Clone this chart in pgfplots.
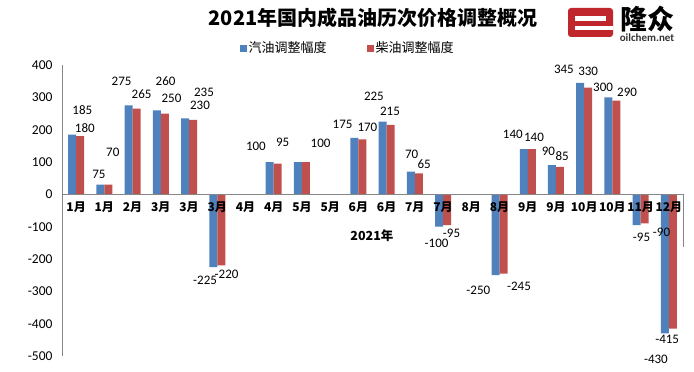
\documentclass[border=0pt]{standalone}
\usepackage{fontspec}
\setmainfont{Carlito}
\newfontfamily\cjk{Noto Sans CJK SC}
\usepackage{pgfplots}
\pgfplotsset{compat=1.18}
\usepackage{pgfplotstable}
\definecolor{gasC}{HTML}{4F81BD}
\definecolor{dieC}{HTML}{C0504D}
\definecolor{axC}{HTML}{868686}
\definecolor{logoR}{HTML}{C0272D}
\tikzset{dl/.style={font=\fontsize{13}{13}\selectfont, inner sep=0pt}}

\pgfplotstableread{
idx gas diesel
0 185 180
1 30 30
2 275 265
3 260 250
4 235 230
5 -225 -220
6 0 0
7 100 95
8 100 100
9 0 0
10 175 170
11 225 215
12 70 65
13 -100 -95
14 0 0
15 -250 -245
16 140 140
17 90 85
18 345 330
19 300 290
20 -95 -90
21 -430 -415
}\datatable

\begin{document}
\begin{tikzpicture}[x=1pt,y=1pt]
\path[use as bounding box] (0,0) rectangle (694,372);
\begin{axis}[
  at={(62pt,16pt)}, anchor=south west,
  scale only axis, width=621pt, height=291pt,
  xmin=-0.5, xmax=21.5, ymin=-500, ymax=400,
  ybar=0pt, bar width=8pt,
  axis on top,
  axis x line=middle, axis y line=left,
  axis line style={draw=axC, line width=0.8pt, -},
  hide obscured y ticks=false,
  hide obscured x ticks=false,
  major tick length=0pt,
  xtick={0,...,21},
  xticklabels={1月,1月,2月,3月,3月,3月,4月,4月,5月,5月,6月,6月,7月,7月,8月,8月,9月,9月,10月,10月,11月,12月},
  xticklabel style={font=\cjk\bfseries\fontsize{12}{12}\selectfont, anchor=north, yshift=-4pt},
  ytick={-500,-400,-300,-200,-100,0,100,200,300,400},
  yticklabels={-500,-400,-300,-200,-100,0,100,200,300,400},
  yticklabel style={font=\fontsize{13.5}{13.5}\selectfont, anchor=east, xshift=-6pt},
  legend style={at={(0.46,1.058)}, anchor=center, draw=none, fill=none,
    legend columns=2, font=\cjk\fontsize{13}{13}\selectfont,
    /tikz/every even column/.append style={column sep=38pt}},
  legend image code/.code={\fill[#1] (0pt,-3.5pt) rectangle (7pt,3.5pt);},
  clip=false,
]
\addplot[fill=gasC, draw=none] table[x=idx,y=gas]{\datatable};
\addlegendentry{汽油调整幅度}
\addplot[fill=dieC, draw=none] table[x=idx,y=diesel]{\datatable};
\addlegendentry{柴油调整幅度}

\node[dl] at (axis cs:0.22,261) {185};
\node[dl] at (axis cs:0.31,206) {180};
\node[dl] at (axis cs:0.81,62) {75};
\node[dl] at (axis cs:1.30,130) {70};
\node[dl] at (axis cs:1.61,349) {275};
\node[dl] at (axis cs:2.32,311) {265};
\node[dl] at (axis cs:3.17,349) {260};
\node[dl] at (axis cs:3.38,296) {250};
\node[dl] at (axis cs:4.53,316) {235};
\node[dl] at (axis cs:4.39,274) {230};
\node[dl] at (axis cs:4.57,-265) {-225};
\node[dl] at (axis cs:5.33,-248) {-220};
\node[dl] at (axis cs:6.37,147) {100};
\node[dl] at (axis cs:7.32,161) {95};
\node[dl] at (axis cs:8.66,158) {100};
\node[dl] at (axis cs:9.44,217) {175};
\node[dl] at (axis cs:10.32,206) {170};
\node[dl] at (axis cs:10.55,302) {225};
\node[dl] at (axis cs:11.12,258) {215};
\node[dl] at (axis cs:11.89,125) {70};
\node[dl] at (axis cs:12.33,93) {65};
\node[dl] at (axis cs:12.77,-152) {-100};
\node[dl] at (axis cs:13.30,-121) {-95};
\node[dl] at (axis cs:14.25,-298) {-250};
\node[dl] at (axis cs:15.69,-284) {-245};
\node[dl] at (axis cs:15.47,186) {140};
\node[dl] at (axis cs:16.22,175) {140};
\node[dl] at (axis cs:16.73,134) {90};
\node[dl] at (axis cs:17.22,119) {85};
\node[dl] at (axis cs:17.28,388) {345};
\node[dl] at (axis cs:18.14,380) {330};
\node[dl] at (axis cs:18.67,331) {300};
\node[dl] at (axis cs:19.52,316) {290};
\node[dl] at (axis cs:20.03,-134) {-95};
\node[dl] at (axis cs:20.74,-118) {-90};
\node[dl] at (axis cs:20.94,-449) {-415};
\node[dl] at (axis cs:20.54,-510) {-430};

\node[font=\cjk\bfseries\fontsize{12.5}{12.5}\selectfont] at (axis cs:10.48,-129) {2021年};
\draw[axC, line width=0.8pt] (axis cs:21.5,0) -- (axis cs:21.5,-163);
\end{axis}

% title
\node[font=\cjk\bfseries\fontsize{20}{20}\selectfont] at (373,354) {2021年国内成品油历次价格调整概况};
% logo
\fill[logoR, rounded corners=3pt] (568,335) rectangle (613,364);
\fill[white] (575,351) rectangle (606,356);
\fill[white] (575,342) rectangle (613,346);
\node[font=\cjk\bfseries\fontsize{27}{27}\selectfont, inner sep=0pt] at (647,353) {隆众};
\node[font=\bfseries\fontsize{11}{11}\selectfont, text=black!80, inner sep=0pt] at (647,334.5) {oilchem.net};
\end{tikzpicture}
\end{document}
